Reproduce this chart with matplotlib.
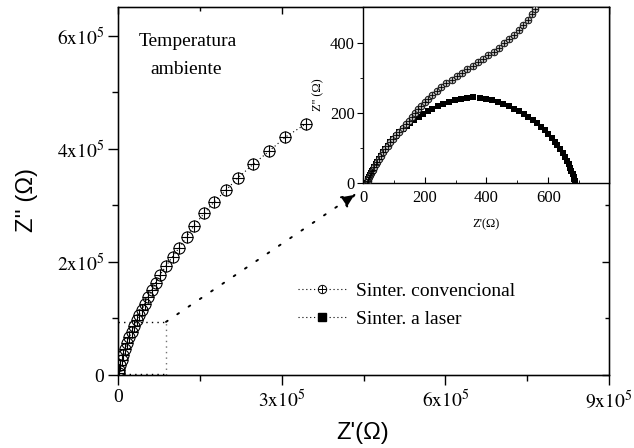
import matplotlib
matplotlib.use("Agg")
import matplotlib.pyplot as plt
from matplotlib.lines import Line2D
from matplotlib.legend_handler import HandlerTuple
from matplotlib.ticker import FixedLocator, FixedFormatter

plt.rcParams['mathtext.fontset'] = 'stix'
plt.rcParams['font.family'] = ['Liberation Serif', 'DejaVu Serif']

# ---- main plot data: conventional sintering (Ohm) ----
conv_main_zr = [0.01e5, 0.02e5, 0.04e5, 0.07e5, 0.10e5, 0.13e5, 0.17e5, 0.21e5, 0.25e5,
                0.29e5, 0.34e5, 0.39e5, 0.44e5, 0.49e5, 0.55e5, 0.62e5, 0.69e5, 0.77e5,
                0.88e5, 1.00e5, 1.12e5, 1.26e5, 1.39e5, 1.58e5, 1.76e5, 1.98e5, 2.20e5,
                2.48e5, 2.77e5, 3.07e5, 3.44e5]
conv_main_zi = [0.04e5, 0.09e5, 0.18e5, 0.27e5, 0.35e5, 0.46e5, 0.57e5, 0.67e5, 0.76e5,
                0.87e5, 0.97e5, 1.06e5, 1.15e5, 1.26e5, 1.38e5, 1.50e5, 1.63e5, 1.77e5,
                1.93e5, 2.09e5, 2.25e5, 2.45e5, 2.64e5, 2.86e5, 3.06e5, 3.27e5, 3.49e5,
                3.73e5, 3.96e5, 4.21e5, 4.44e5]

# ---- inset data (Ohm) ----
conv_in_zr = [13, 15, 17, 19, 22, 25, 28, 32, 36, 41, 46, 52, 58, 65, 72, 80, 89, 98, 108,
              118, 128, 138, 148, 158, 168, 178, 189, 200, 212, 225, 239, 254, 270, 287,
              304, 321, 338, 355, 372, 389, 406, 423, 440, 457, 473, 489, 505, 519, 533,
              546, 558, 570]
conv_in_zi = [0, 6, 11, 16, 22, 28, 33, 38, 45, 53, 60, 69, 78, 87, 96, 106, 116, 125, 136,
              146, 157, 168, 178, 189, 200, 210, 220, 230, 241, 252, 263, 274, 285, 295,
              305, 314, 324, 334, 344, 354, 364, 375, 386, 398, 410, 423, 437, 451, 466,
              481, 497, 513]

laser_zr = [13, 15, 17, 19, 22, 25, 28, 32, 36, 41, 46, 52, 58, 65, 72, 80, 89, 98, 108, 118,
            129, 141, 153, 166, 180, 194, 209, 225, 242, 260, 279, 298, 318, 338, 358, 378,
            398, 417, 436, 454, 472, 489, 505, 521, 536, 550, 564, 577, 589, 600, 611, 621,
            630, 639, 647, 654, 660, 666, 671, 675, 679, 682, 684, 686, 687]
laser_zi = [0, 6, 11, 16, 22, 28, 33, 38, 45, 53, 60, 69, 78, 87, 96, 106, 116, 125, 135, 145,
            154, 163, 172, 181, 189, 197, 205, 212, 219, 226, 232, 237, 241, 243, 244, 243,
            240, 236, 231, 225, 219, 212, 205, 197, 189, 180, 170, 160, 150, 140, 129, 118,
            107, 96, 85, 74, 64, 54, 44, 35, 26, 18, 11, 5, 0]

main_xticks = [0, 3e5, 6e5, 9e5]
main_xticklabels = ['0', r'$3\mathrm{x}10^{5}$', r'$6\mathrm{x}10^{5}$', r'$9\mathrm{x}10^{5}$']
main_yticks = [0, 2e5, 4e5, 6e5]
main_yticklabels = ['0', r'$2\mathrm{x}10^{5}$', r'$4\mathrm{x}10^{5}$', r'$6\mathrm{x}10^{5}$']
inset_xticks = [0, 200, 400, 600]
inset_yticks = [0, 200, 400]

series_labels = ['Sinter. convencional', 'Sinter. a laser']

W, H = 634, 448
fig = plt.figure(figsize=(W / 100, H / 100), dpi=100)

def frac_box(l, t, r, b):
    return [l / W, (H - b) / H, (r - l) / W, (b - t) / H]

ax = fig.add_axes(frac_box(118, 7, 609, 375))
ax.set_xlim(0, 9e5)
ax.set_ylim(0, 6.51e5)

dot = (0, (1, 2.5))
ax.plot(conv_main_zr, conv_main_zi, linestyle=dot, color='k', lw=0.8, zorder=3)
ax.plot(conv_main_zr, conv_main_zi, 'o', ms=8, mfc='none', mec='k', mew=0.8, zorder=4)
ax.plot(conv_main_zr, conv_main_zi, '+', ms=8, mec='k', mew=0.8, zorder=4)

# zoom box and arrow
corner = (0.88e5, 0.94e5)
ax.plot([0, corner[0]], [corner[1], corner[1]], linestyle=(0, (1, 3)), color='k', lw=1.0)
ax.plot([corner[0], corner[0]], [0, corner[1]], linestyle=(0, (1, 3)), color='0.45', lw=1.0)
ax.plot([0, corner[0]], [2500, 2500], linestyle=(0, (1, 3)), color='k', lw=1.0)
ax.annotate('', xy=(4.37e5, 3.21e5), xytext=corner,
            arrowprops=dict(arrowstyle='-|>,head_length=0.9,head_width=0.4', color='k',
                            lw=1.4, linestyle=(0, (1, 6)), shrinkA=0, shrinkB=0))

ax.xaxis.set_major_locator(FixedLocator(main_xticks))
ax.xaxis.set_major_formatter(FixedFormatter(main_xticklabels))
ax.xaxis.set_minor_locator(FixedLocator([1.5e5, 4.5e5, 7.5e5]))
ax.yaxis.set_major_locator(FixedLocator(main_yticks))
ax.yaxis.set_major_formatter(FixedFormatter(main_yticklabels))
ax.yaxis.set_minor_locator(FixedLocator([1e5, 3e5, 5e5]))
ax.tick_params(which='both', direction='out', labelsize=14, width=1.0, pad=3)
ax.tick_params(which='major', length=7)
ax.tick_params(which='minor', length=4)
for s in ax.spines.values():
    s.set_linewidth(1.0)

# mirrored inward ticks on top/right
axt = ax.twiny()
axt.set_xlim(ax.get_xlim())
axt.xaxis.set_major_locator(FixedLocator(main_xticks))
axt.xaxis.set_minor_locator(FixedLocator([1.5e5, 4.5e5, 7.5e5]))
axt.tick_params(which='both', direction='in', labeltop=False, width=1.0)
axt.tick_params(which='major', length=5)
axt.tick_params(which='minor', length=3)
axr = ax.twinx()
axr.set_ylim(ax.get_ylim())
axr.yaxis.set_major_locator(FixedLocator(main_yticks))
axr.yaxis.set_minor_locator(FixedLocator([1e5, 3e5, 5e5]))
axr.tick_params(which='both', direction='in', labelright=False, width=1.0)
axr.tick_params(which='major', length=5)
axr.tick_params(which='minor', length=3)

fig.text(363 / W, 1 - 433 / H, "Z'(Ω)", family=['Liberation Sans'], fontsize=17,
         ha='center', va='center')
fig.text(27 / W, 1 - 200 / H, "Z'' (Ω)", family=['Liberation Sans'], fontsize=17,
         ha='center', va='center', rotation=90)

ax.text((139 - 118) / 491, (375 - 46) / 368, 'Temperatura', transform=ax.transAxes,
        fontsize=14, va='baseline', ha='left')
ax.text((150 - 118) / 491, (375 - 74) / 368, 'ambiente', transform=ax.transAxes,
        fontsize=14, va='baseline', ha='left')

# legend
h_line1 = Line2D([], [], linestyle=dot, color='k', lw=0.8)
h_o = Line2D([], [], marker='o', ms=6, mfc='none', mec='k', mew=0.7, linestyle='none')
h_p = Line2D([], [], marker='+', ms=6, mec='k', mew=0.7, linestyle='none')
h_sq = Line2D([], [], marker='s', ms=5.5, color='k', linestyle=dot, lw=0.8)
leg = ax.legend([(h_line1, h_o, h_p), h_sq], series_labels,
                handler_map={tuple: HandlerTuple(ndivide=1, pad=0)},
                loc='center left', bbox_to_anchor=((298 - 118) / 491, (375 - 305) / 368),
                frameon=False, fontsize=14, handlelength=2.5, handletextpad=0.5,
                labelspacing=0.55, borderpad=0, borderaxespad=0)

# inset
axi = fig.add_axes(frac_box(363, 7, 609, 183))
axi.set_facecolor('white')
axi.set_xlim(0, 797)
axi.set_ylim(0, 502)
axi.plot(laser_zr, laser_zi, linestyle=dot, color='k', lw=0.6, zorder=2)
axi.plot(laser_zr, laser_zi, 's', ms=5, color='k', mew=0, zorder=3)
axi.plot(conv_in_zr, conv_in_zi, linestyle=dot, color='k', lw=0.6, zorder=4)
axi.plot(conv_in_zr, conv_in_zi, 'o', ms=4.8, mfc='0.7', mec='k', mew=0.6, zorder=5)
axi.plot(conv_in_zr, conv_in_zi, '+', ms=4.8, mec='k', mew=0.6, zorder=6)
axi.xaxis.set_major_locator(FixedLocator(inset_xticks))
axi.xaxis.set_minor_locator(FixedLocator([100, 300, 500, 700]))
axi.yaxis.set_major_locator(FixedLocator(inset_yticks))
axi.yaxis.set_minor_locator(FixedLocator([100, 300]))
axi.tick_params(axis='x', which='both', direction='in', labelsize=12, pad=5)
axi.tick_params(axis='y', which='both', direction='out', labelsize=12, pad=2)
axi.tick_params(which='major', length=4)
axi.tick_params(which='minor', length=2.5)
axi.set_xlabel("Z'(Ω)", fontsize=9, labelpad=9)
axi.set_ylabel("Z'' (Ω)", fontsize=9, labelpad=4)
for s in axi.spines.values():
    s.set_linewidth(1.0)

fig.savefig('out.png', dpi=100)
